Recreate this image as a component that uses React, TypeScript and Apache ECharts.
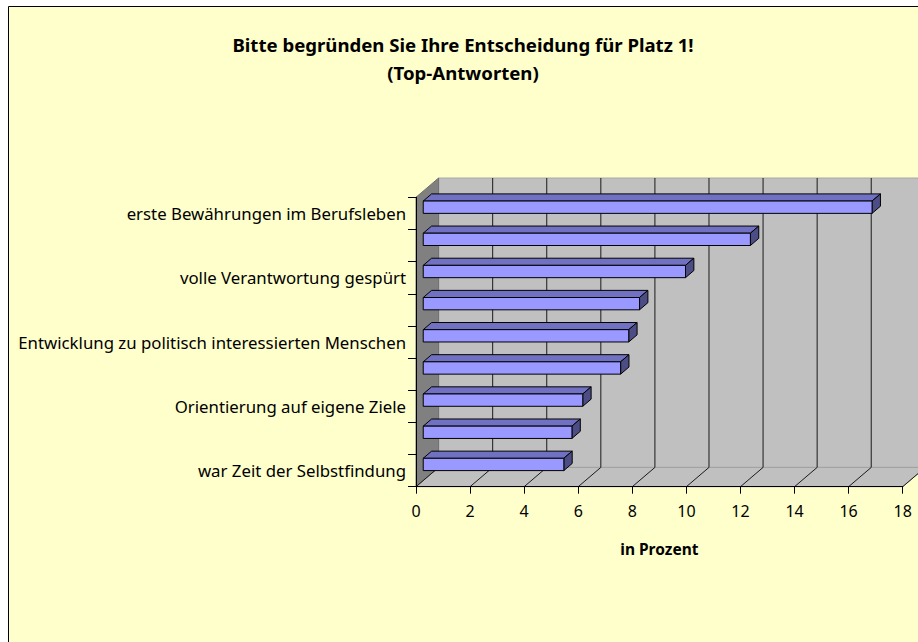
import React, { useEffect, useRef } from "react";
import * as echarts from "echarts";

const titleText = "Bitte begründen Sie Ihre Entscheidung für Platz 1!\n(Top-Antworten)";
const categories = [
  "erste Bewährungen im Berufsleben",
  "",
  "volle Verantwortung gespürt",
  "",
  "Entwicklung zu politisch interessierten Menschen",
  "",
  "Orientierung auf eigene Ziele",
  "",
  "war Zeit der Selbstfindung",
];
const values = [16.6, 12.1, 9.7, 8.0, 7.6, 7.3, 5.9, 5.5, 5.2];
const xTicks = [0, 2, 4, 6, 8, 10, 12, 14, 16, 18];
const xAxisName = "in Prozent";

const DX = 22.6;
const DY = 19.3;
const F0 = 0.32;
const F1 = 0.69;
const BAR_FRAC = 0.383;

export default function App() {
  const ref = useRef<HTMLDivElement>(null);
  useEffect(() => {
    if (!ref.current) return;
    const chart = echarts.init(ref.current, undefined, { renderer: "svg" });
    const font = "'Noto Sans', sans-serif";

    const wallsRender = (params: any, api: any) => {
      const cs = params.coordSys;
      const x0 = cs.x, y0 = cs.y, x1 = cs.x + cs.width, y1 = cs.y + cs.height;
      const children: any[] = [];
      children.push({
        type: "rect",
        shape: { x: x0 + DX, y: y0 - DY, width: 700, height: cs.height },
        style: { fill: "#c0c0c0", stroke: "#a8a8a8", lineWidth: 1 },
      });
      children.push({
        type: "polygon",
        shape: { points: [[x0, y1], [x1, y1], [x1 + DX, y1 - DY], [x0 + DX, y1 - DY]] },
        style: { fill: "#c0c0c0", stroke: "#a0a0a0", lineWidth: 1 },
      });
      children.push({
        type: "polygon",
        shape: { points: [[x0, y0], [x0 + DX, y0 - DY], [x0 + DX, y1 - DY], [x0, y1]] },
        style: { fill: "#808080", stroke: "#707070", lineWidth: 1 },
      });
      xTicks.forEach((v) => {
        const X = api.coord([v, 0])[0];
        if (v > 0) {
          children.push({
            type: "line",
            shape: { x1: X + DX, y1: y0 - DY, x2: X + DX, y2: y1 - DY },
            style: { stroke: "#1a1a1a", lineWidth: 1 },
          });
        }
        children.push({
          type: "line",
          shape: { x1: X, y1: y1, x2: X + DX, y2: y1 - DY },
          style: { stroke: "#1a1a1a", lineWidth: 1 },
        });
      });
      return { type: "group", children };
    };

    const barRender = (params: any, api: any) => {
      const v = api.value(0);
      const idx = api.value(1);
      const p0 = api.coord([0, idx]);
      const p1 = api.coord([v, idx]);
      const band = api.size([0, 1])[1];
      const h = band * BAR_FRAC;
      const ox = F0 * DX, oy = F0 * DY;
      const bx = (F1 - F0) * DX, by = (F1 - F0) * DY;
      const xl = p0[0] + ox, xr = p1[0] + ox;
      const yt = p0[1] - oy - h / 2, yb = p0[1] - oy + h / 2;
      const stroke = { stroke: "#000", lineWidth: 1, lineJoin: "round" };
      return {
        type: "group",
        children: [
          {
            type: "polygon",
            shape: { points: [[xl, yt], [xr, yt], [xr + bx, yt - by], [xl + bx, yt - by]] },
            style: { fill: "#7171c4", ...stroke },
          },
          {
            type: "polygon",
            shape: { points: [[xr, yt], [xr + bx, yt - by], [xr + bx, yb - by], [xr, yb]] },
            style: { fill: "#4d4d85", ...stroke },
          },
          {
            type: "rect",
            shape: { x: xl, y: yt, width: xr - xl, height: h },
            style: { fill: "#9999ff", ...stroke },
          },
        ],
      };
    };

    chart.setOption({
      animation: false,
      backgroundColor: "#ffffff",
      title: {
        text: titleText,
        left: 458,
        top: 25,
        textAlign: "center",
        textStyle: {
          fontFamily: font,
          fontSize: 18.6,
          fontWeight: "bold",
          color: "#000",
          lineHeight: 28,
        },
      },
      graphic: [
        {
          type: "rect",
          z: -10,
          silent: true,
          shape: { x: 8.5, y: 6.5, width: 1000, height: 1000 },
          style: { fill: "#ffffcc", stroke: "#000", lineWidth: 1 },
        },
      ],
      grid: { left: 416, top: 197.3, width: 486.7, height: 289.4, containLabel: false },
      xAxis: {
        type: "value",
        min: 0,
        max: 18,
        interval: 2,
        z: 5,
        name: xAxisName,
        nameLocation: "middle",
        nameGap: 54,
        nameTextStyle: { fontFamily: font, fontSize: 15.5, fontWeight: "bold", color: "#000" },
        axisLine: { show: true, lineStyle: { color: "#000", width: 1 } },
        axisTick: { show: true, length: 7, lineStyle: { color: "#000", width: 1 } },
        axisLabel: { fontFamily: font, fontSize: 16, color: "#000", margin: 16 },
        splitLine: { show: false },
      },
      yAxis: {
        type: "category",
        data: categories,
        inverse: true,
        z: 5,
        axisLine: { show: true, lineStyle: { color: "#000", width: 1 } },
        axisTick: { show: true, length: 8, interval: 0, lineStyle: { color: "#000", width: 1 } },
        axisLabel: { interval: 0, fontFamily: font, fontSize: 16.8, color: "#000", margin: 10 },
        splitLine: { show: false },
      },
      series: [
        {
          type: "custom",
          z: 1,
          clip: false,
          renderItem: wallsRender,
          data: [[0, 0]],
          encode: { x: 0, y: 1 },
          silent: true,
        },
        {
          type: "custom",
          z: 3,
          clip: false,
          renderItem: barRender,
          data: values.map((v, i) => [v, i]),
          encode: { x: 0, y: 1 },
        },
      ],
    });
    return () => chart.dispose();
  }, []);
  return (
    <div
      ref={ref}
      style={{ position: "fixed", left: 0, top: 0, width: 918, height: 642 }}
    />
  );
}
